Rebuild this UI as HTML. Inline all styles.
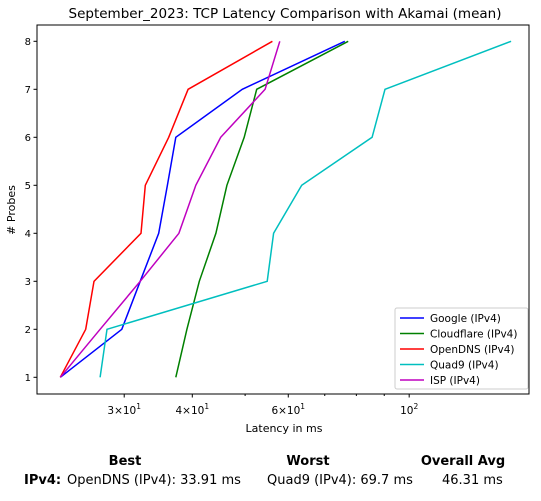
<!DOCTYPE html>
<html><head><meta charset="utf-8"><style>
body{margin:0;background:#fff;font-family:"Liberation Sans","DejaVu Sans",sans-serif;}
svg text{font-family:"DejaVu Sans","Liberation Sans",sans-serif;}
</style></head><body>
<svg id="chart" width="541" height="496" xmlns="http://www.w3.org/2000/svg">
<text x="285" y="18" text-anchor="middle" font-size="13.5">September_2023: TCP Latency Comparison with Akamai (mean)</text>
<g id="plot"></g>
<text x="284" y="432" text-anchor="middle" font-size="11">Latency in ms</text>
<text transform="translate(15,210) rotate(-90)" text-anchor="middle" font-size="11"># Probes</text>
<g font-size="13" font-weight="bold">
<text x="125" y="465" text-anchor="middle">Best</text>
<text x="308" y="465" text-anchor="middle">Worst</text>
<text x="463" y="465" text-anchor="middle">Overall Avg</text>
<text x="24" y="484">IPv4:</text>
</g>
<g font-size="13">
<text x="67" y="484">OpenDNS (IPv4): 33.91 ms</text>
<text x="267" y="484">Quad9 (IPv4): 69.7 ms</text>
<text x="442" y="484">46.31 ms</text>
</g>
</svg>
<script>
const probes=[1,2,3,4,5,6,7,8];
const seriesNames=["Google (IPv4)","Cloudflare (IPv4)","OpenDNS (IPv4)","Quad9 (IPv4)","ISP (IPv4)"];
const seriesColors=["#0000ff","#008000","#ff0000","#00bfbf","#bf00bf"];
const google=[22.9,29.7,32.1,34.7,36.0,37.3,49.4,76.2];
const cloudflare=[37.3,39.1,41.2,44.2,46.3,49.8,52.5,77.3];
const opendns=[22.9,25.5,26.4,32.2,32.8,36.2,39.3,56.1];
const quad9=[27.1,27.9,54.9,56.4,63.5,85.5,90.3,153.8];
const isp=[22.9,27.1,32.1,37.8,40.6,45.1,54.4,57.9];
const majorTicks=[30,40,60,100];
const majorLabels=["3×10","4×10","6×10","10"];
const majorExps=["1","1","1","2"];
const minorTicks=[50,70,80,90];
const yTicks=[1,2,3,4,5,6,7,8];

const NS="http://www.w3.org/2000/svg";
const L=37,R=529,T=25,B=394;
function xs(v){return 192.3+545*(Math.log10(v)-Math.log10(40));}
function ys(p){return 377.3-(p-1)*(377.3-41.3)/7;}
const g=document.getElementById('plot');
function mk(tag,attrs,parent){const e=document.createElementNS(NS,tag);for(const k in attrs)e.setAttribute(k,attrs[k]);(parent||g).appendChild(e);return e;}
const clip=mk('clipPath',{id:'cp'});mk('rect',{x:L,y:T,width:R-L,height:B-T},clip);
const all=[google,cloudflare,opendns,quad9,isp];
all.forEach((s,i)=>{
  const d=s.map((v,j)=>(j?'L':'M')+xs(v).toFixed(1)+','+ys(probes[j]).toFixed(1)).join(' ');
  const p=mk('path',{d:d,fill:'none',stroke:seriesColors[i],'stroke-width':1.5,'clip-path':'url(#cp)'});
  
  
});
const frame=mk('rect',{x:L,y:T,width:R-L,height:B-T,fill:'none',stroke:'#000','stroke-width':1});


majorTicks.forEach((v,i)=>{
  const x=xs(v);
  mk('line',{x1:x,x2:x,y1:B,y2:B+3.5,stroke:'#000'});
  const t=mk('text',{x:x,y:B+20,'text-anchor':'middle','font-size':10.5});
  
  
  t.textContent=majorLabels[i];
  const s=mk('tspan',{dy:-5,'font-size':7.5},t);s.textContent=majorExps[i];
});
minorTicks.forEach(v=>{const x=xs(v);mk('line',{x1:x,x2:x,y1:B,y2:B+2,stroke:'#000'});});
yTicks.forEach(p=>{
  const y=ys(p);
  mk('line',{x1:L-3.5,x2:L,y1:y,y2:y,stroke:'#000'});
  const t=mk('text',{x:L-6,y:y+3.5,'text-anchor':'end','font-size':10});
  
  
  t.textContent=p;
});
const lg=mk('g',{});


mk('rect',{x:395,y:308,width:133,height:81,rx:2,fill:'#fff',stroke:'#ccc'},lg);
seriesNames.forEach((n,i)=>{
  const y=318+i*15.5;
  mk('line',{x1:400,x2:424,y1:y,y2:y,stroke:seriesColors[i],'stroke-width':1.5},lg);
  const t=mk('text',{x:430,y:y+4,'font-size':10.5},lg);
  
  
  t.textContent=n;
});
</script>
</body></html>
